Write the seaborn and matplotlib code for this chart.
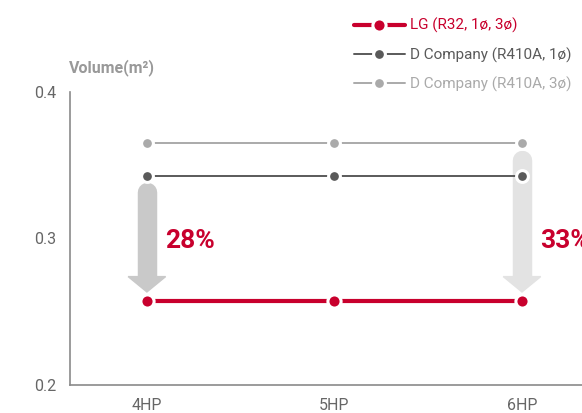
import matplotlib
matplotlib.use("Agg")
import matplotlib.pyplot as plt
from matplotlib.patches import Polygon
import seaborn as sns
import pandas as pd

# chart values
capacities = ["4HP", "5HP", "6HP"]
lg_r32 = [0.257, 0.257, 0.257]
d_r410a_1ph = [0.343, 0.343, 0.343]
d_r410a_3ph = [0.365, 0.365, 0.365]
series_names = ["LG (R32, 1ø, 3ø)", "D Company (R410A, 1ø)", "D Company (R410A, 3ø)"]
reductions = ["28%", "33%"]      # labels next to the arrows
arrow_at = ["4HP", "6HP"]        # which capacity each arrow sits on
arrow_from = [d_r410a_1ph, d_r410a_3ph]
y_ticks = [0.2, 0.3, 0.4]

RED = "#c8002d"
DARK = "#5a5a5a"
LIGHT = "#aaaaaa"
colors = [RED, DARK, LIGHT]
widths = [3.0, 1.4, 1.4]
msizes = [9.5, 8.5, 8.5]

sns.set_theme(style="white")
plt.rcParams["font.family"] = ["Roboto", "DejaVu Sans"]

df = pd.DataFrame({"capacity": capacities * 3,
                   "volume": lg_r32 + d_r410a_1ph + d_r410a_3ph,
                   "series": [s for s in series_names for _ in capacities]})
df["pos"] = df["capacity"].map({c: i for i, c in enumerate(capacities)})

fig = plt.figure(figsize=(5.82, 4.13), dpi=100)
ax = fig.add_axes([70 / 582, 28 / 413, 1 - 70 / 582, (385 - 92) / 413])

# draw light series first so LG sits on top
for name, col, lw, ms in reversed(list(zip(series_names, colors, widths, msizes))):
    sns.lineplot(data=df[df["series"] == name], x="pos", y="volume", ax=ax,
                 color=col, linewidth=lw, marker="o", markersize=ms,
                 markeredgecolor="white", markeredgewidth=2.2, zorder=3,
                 label=name)

# reduction arrows (the 6HP one starts from the upper grey series)
arrow_cols = ["#c9c9c9", "#e3e3e3"]
for cap, src, txt, acol in zip(arrow_at, arrow_from, reductions, arrow_cols):
    i = capacities.index(cap)
    top = src[i] - 0.0115
    tip = lg_r32[i] + 0.0065
    head = tip + 0.0105
    ax.plot([i, i], [top, head], color=acol, lw=14, solid_capstyle="round", zorder=1)
    ax.add_patch(Polygon([[i - 0.1, head], [i + 0.1, head], [i, tip]],
                         closed=True, color=acol, zorder=1))
    ax.text(i + 0.095, 0.2985, txt, color=RED, fontsize=19,
            fontweight="bold", va="center", ha="left", clip_on=False)

ax.set_xlim(-0.41, 2.32)
ax.set_ylim(0.2, 0.4)
ax.set_xticks(range(len(capacities)))
ax.set_xticklabels(capacities)
ax.set_yticks(y_ticks)
ax.set_yticklabels([f"{v:.1f}" for v in y_ticks])
ax.tick_params(axis="both", length=0, labelsize=11.5, colors="#666666")
ax.tick_params(axis="x", pad=9)
ax.tick_params(axis="y", pad=10)
ax.set_xlabel("")
ax.set_ylabel("")
for side in ["top", "right"]:
    ax.spines[side].set_visible(False)
for side in ["left", "bottom"]:
    ax.spines[side].set_color("#8a8a8a")
    ax.spines[side].set_linewidth(1.2)

fig.text(69 / 582, 1 - 68 / 413, "Volume(m²)", color="#999999", fontsize=11.5,
         fontweight="bold", va="center", ha="left")

handles, labels = ax.get_legend_handles_labels()
order = [labels.index(n) for n in series_names]
leg = fig.legend([handles[k] for k in order], series_names, loc="upper left",
                 bbox_to_anchor=(348 / 582, 1 - 12 / 413), frameon=False,
                 fontsize=11, handlelength=3.3, handletextpad=0.35,
                 labelspacing=0.92, borderaxespad=0)
for t, c in zip(leg.get_texts(), colors):
    t.set_color(c)
ax.get_legend().remove()

fig.savefig("out.png", dpi=100)
